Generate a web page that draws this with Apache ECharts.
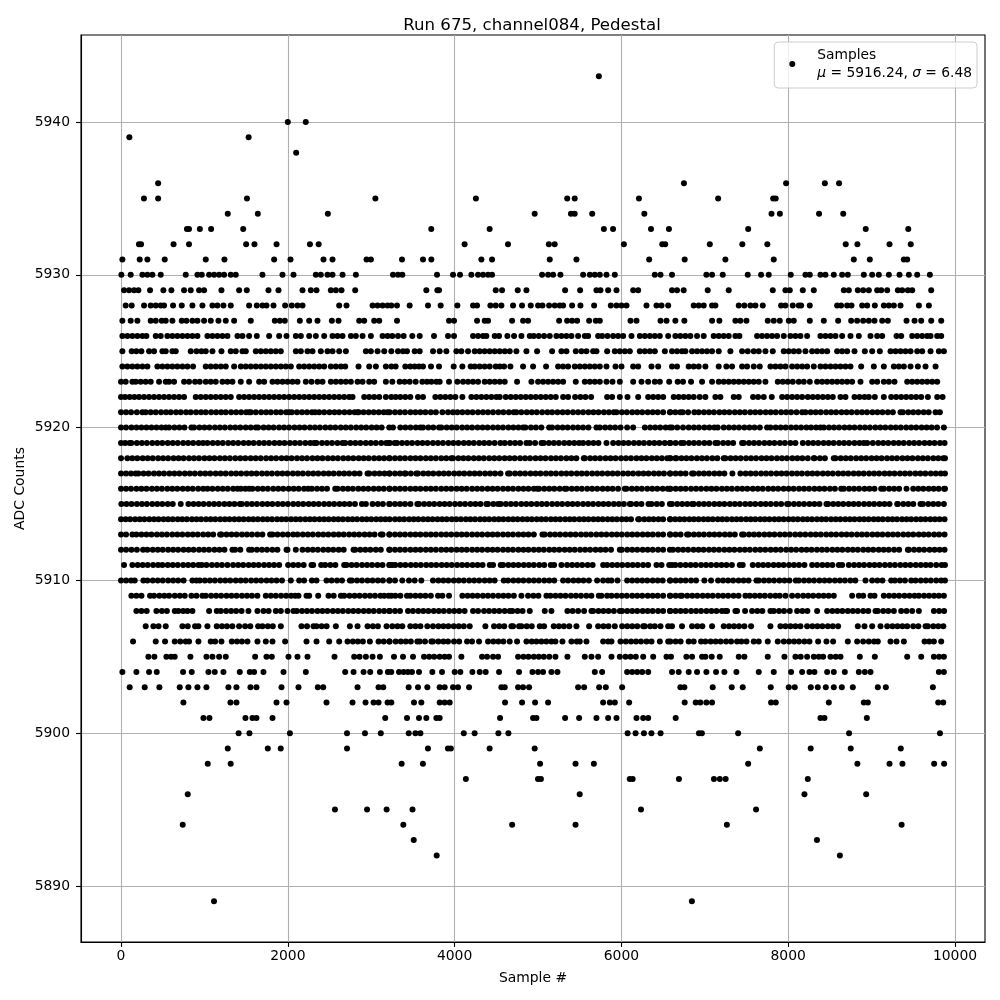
<!DOCTYPE html>
<html><head><meta charset="utf-8">
<script src="https://cdn.jsdelivr.net/npm/echarts@6/dist/echarts.min.js"></script>
<style>html,body{margin:0;padding:0;background:#fff}#c{width:1000px;height:1000px}</style>
</head><body><div id="c"></div>
<script>
const xTicks=[0,2000,4000,6000,8000,10000];
const yTicks=[5890,5900,5910,5920,5930,5940];
const s5943=[5730];
const s5940=[2000,2215];
const s5939=[100,1530];
const s5938=[2100];
const s5936=[445,6750,7975,8440,8610];
const s5935=[275,445,1510,3050,4255,5350,5440,6210,7160,7820,7850];
const s5934=[1280,1640,2480,4960,5395,5440,5650,6275,7800,7900,8370,8660];
const s5933=[790,815,945,1080,1465,3720,4420,5790,5900,6355,6570,7520,8930,9440];
const s5932=[215,240,630,815,1500,1600,1865,2265,2370,4120,4640,5130,5200,6030,6490,6525,7060,7450,7750,8690,8830,9215,9470];
const s5931=[16,224,316,524,1016,1240,1836,2032,2428,2536,2944,2996,3369,3621,3721,4321,4449,5141,5461,6333,6759,7247,7827,8787,8979,9387,9427];
const s5930=[4,116,256,316,376,476,776,916,968,1056,1116,1176,1236,1316,1376,1696,1936,2068,2336,2396,2476,2536,2656,2816,3261,3321,3373,3789,3981,4065,4201,4281,4341,4401,4449,5049,5121,5181,5269,5541,5621,5681,5741,5821,5921,6401,6469,6607,7019,7087,7215,7515,7675,7767,8031,8207,8259,8387,8447,8547,8647,8715,8907,9007,9087,9207,9335,9447,9547,9699];
const s5929=[36,96,156,208,348,508,604,756,836,936,996,1204,1416,1508,1768,1888,2176,2276,2344,2516,2576,2644,2808,3661,3793,3813,4493,4569,4757,4861,5325,5505,5701,5749,5841,5941,6141,6201,6607,6667,6747,7035,7287,7815,7967,8019,8175,8307,8667,8727,8835,8899,8967,9067,9115,9187,9315,9367,9435,9487,9715];
const s5928=[56,128,276,356,416,476,516,624,728,856,976,1096,1156,1228,1316,1536,1628,1696,1744,1828,1968,2048,2116,2176,2616,2704,3016,3076,3136,3196,3241,3309,3461,3681,3833,4033,4221,4269,4429,4493,4561,4701,4809,4913,5001,5053,5133,5201,5261,5301,5409,5509,5673,5873,5941,6001,6061,6301,6421,6481,6561,6867,6927,6987,7087,7127,7407,7475,7547,7607,7695,7915,7967,8055,8127,8155,8259,8587,8635,8707,8759,8887,8947,9039,9147,9207,9267,9347,9567,9687];
const s5927=[16,116,196,356,416,488,536,616,728,784,856,916,996,1076,1168,1256,1356,1556,1844,1904,1964,2144,2256,2356,2528,2608,2856,2916,3036,3096,3309,3933,3993,4269,4361,4401,4689,4821,4881,5253,5349,5409,5469,5613,5693,5741,6109,6181,6469,6541,6647,6755,7087,7175,7367,7427,7499,7755,7827,7899,8007,8067,8259,8427,8599,8755,8827,8899,8967,9035,9127,9195,9419,9515,9595,9715,9835];
const s5926=[16,76,136,196,256,304,416,476,556,616,676,736,796,856,916,1036,1096,1156,1216,1276,1396,1456,1536,1628,1776,1896,1984,2096,2156,2256,2336,2436,2536,2596,2656,2756,2816,2896,2996,3136,3196,3253,3321,3389,3493,3581,3753,3921,3993,4221,4281,4341,4381,4481,4533,4633,4713,4801,4901,4949,5009,5073,5141,5221,5281,5341,5401,5481,5561,5601,5721,5769,5833,5901,5961,6021,6121,6221,6281,6341,6401,6461,6561,6647,6707,6767,6827,6907,6987,7107,7167,7227,7287,7367,7415,7627,7687,7747,7807,7867,7947,8027,8087,8147,8227,8387,8447,8507,8567,8647,8747,8847,8987,9067,9127,9299,9355,9487,9547,9607,9667,9707,9787,9835];
const s5925=[16,128,184,244,336,396,496,536,616,656,836,904,964,1016,1096,1204,1316,1376,1456,1496,1616,1676,1736,1796,1856,1916,2096,2156,2236,2296,2396,2476,2536,2616,2696,2936,2996,3076,3156,3241,3321,3381,3429,3521,3581,3741,3821,3901,4021,4081,4161,4241,4301,4361,4421,4481,4541,4601,4661,4741,4861,4989,5169,5281,5341,5453,5521,5581,5661,5701,5829,5921,5981,6041,6101,6221,6281,6341,6401,6521,6607,6667,6727,6767,6847,6907,6967,7027,7087,7167,7307,7447,7515,7587,7647,7727,7815,7947,8007,8067,8127,8207,8287,8347,8407,8467,8587,8647,8707,8795,8919,9007,9099,9227,9287,9347,9407,9467,9547,9607,9707,9807,9867];
const s5924=[16,76,136,196,256,316,436,496,556,616,676,736,796,864,1016,1076,1136,1196,1256,1356,1436,1496,1556,1616,1676,1736,1796,1856,1916,1976,2036,2136,2196,2256,2316,2376,2436,2516,2576,2636,2688,2848,2976,3056,3176,3241,3293,3409,3469,3521,3573,3621,3717,3813,3989,4093,4193,4241,4301,4361,4421,4493,4541,4593,4669,4821,4941,5097,5241,5301,5361,5441,5501,5561,5621,5681,5741,5821,5929,6001,6141,6201,6361,6441,6607,6667,6807,6867,6927,7007,7167,7259,7327,7447,7507,7587,7659,7787,7847,7907,7967,8047,8107,8167,8227,8307,8387,8447,8507,8567,8627,8687,8747,8875,9027,9147,9267,9327,9387,9467,9555,9647,9767];
const s5923=[0,56,136,176,236,296,356,456,536,576,636,756,816,888,944,1016,1076,1136,1216,1276,1336,1436,1536,1656,1716,1816,1876,1936,1996,2056,2116,2216,2284,2356,2416,2516,2576,2636,2696,2756,2836,2896,2976,3036,3176,3253,3341,3401,3461,3533,3613,3669,3721,3781,3821,3933,4033,4101,4161,4221,4281,4361,4421,4481,4541,4601,4749,4921,5001,5061,5121,5181,5241,5301,5453,5561,5621,5681,5741,5821,5893,5981,6141,6241,6321,6401,6461,6573,6675,6739,6835,6967,7087,7167,7227,7287,7347,7407,7467,7527,7587,7647,7727,7875,7935,7995,8055,8127,8187,8259,8347,8407,8467,8527,8587,8647,8707,8767,8867,9007,9067,9147,9207,9275,9427,9487,9547,9607,9667,9727,9787];
const s5922=[0,48,104,160,216,276,336,396,456,516,576,636,696,756,896,956,1016,1076,1136,1196,1256,1316,1416,1476,1536,1596,1656,1716,1776,1836,1896,1956,2016,2076,2136,2196,2256,2316,2376,2436,2496,2556,2616,2676,2736,2776,2916,2976,3036,3096,3176,3241,3293,3349,3409,3469,3561,3621,3769,3829,3889,3949,4009,4093,4201,4261,4321,4381,4441,4501,4541,4613,4673,4733,4793,4853,4913,4973,5033,5093,5153,5213,5301,5361,5445,5509,5569,5637,5829,5889,5981,6073,6201,6321,6381,6441,6501,6627,6687,6747,6807,6867,6939,7007,7127,7187,7347,7407,7579,7639,7707,7803,7927,7987,8047,8107,8167,8235,8295,8355,8415,8475,8535,8627,8687,8795,8855,8915,8967,9039,9147,9235,9295,9355,9415,9475,9535,9595,9675,9787,9851];
const s5921=[0,60,120,190,256,296,356,416,480,540,596,660,716,780,836,900,960,1016,1080,1140,1200,1256,1320,1380,1440,1500,1536,1556,1616,1680,1740,1796,1860,1916,1980,2016,2048,2110,2170,2230,2290,2328,2376,2436,2500,2560,2616,2680,2740,2800,2836,2848,2908,2970,3030,3090,3150,3196,3221,3285,3345,3405,3470,3530,3590,3650,3715,3775,3853,3921,3980,4033,4093,4155,4215,4280,4340,4400,4460,4525,4585,4650,4709,4741,4800,4865,4925,4985,5050,5113,5169,5233,5295,5355,5420,5480,5540,5605,5665,5725,5790,5850,5909,5941,6005,6065,6130,6190,6250,6315,6375,6435,6500,6581,6587,6647,6707,6735,6800,6875,6927,6990,7050,7110,7175,7235,7295,7360,7420,7480,7545,7605,7665,7730,7790,7850,7915,7975,8035,8100,8167,8207,8270,8330,8390,8455,8515,8575,8640,8700,8760,8825,8885,8945,9010,9070,9130,9195,9255,9347,9375,9440,9500,9560,9625,9685,9767,9819];
const s5920=[0,60,125,185,245,305,365,425,485,536,576,640,700,760,844,876,940,1000,1060,1125,1185,1245,1310,1370,1430,1495,1555,1616,1644,1710,1770,1830,1895,1955,2015,2080,2140,2200,2265,2325,2385,2450,2510,2570,2635,2695,2755,2820,2880,2940,3005,3065,3125,3216,3261,3349,3410,3470,3535,3589,3621,3685,3745,3813,3841,3905,3965,4025,4090,4150,4210,4275,4335,4395,4460,4520,4580,4645,4705,4765,4821,4849,4915,4975,5040,5133,5169,5235,5295,5355,5420,5480,5540,5605,5701,5741,5805,5865,5925,5990,6069,6141,6281,6345,6405,6465,6530,6581,6607,6670,6739,6807,6870,6930,6995,7055,7115,7155,7227,7290,7350,7410,7475,7535,7595,7660,7747,7787,7850,7910,7970,8035,8095,8155,8219,8275,8335,8387,8427,8490,8550,8610,8675,8735,8795,8860,8920,8980,9045,9105,9165,9230,9290,9350,9415,9475,9535,9600,9660,9720,9785,9867];
const s5919=[0,50,104,124,190,250,310,375,435,495,560,620,680,745,805,865,930,984,1036,1100,1160,1220,1285,1345,1405,1470,1530,1590,1655,1715,1775,1840,1900,1960,2025,2085,2145,2210,2270,2316,2344,2410,2470,2530,2595,2656,2688,2750,2810,2870,2935,2995,3055,3120,3180,3216,3221,3281,3309,3370,3430,3490,3555,3615,3675,3740,3800,3860,3925,3985,4045,4110,4170,4230,4295,4355,4415,4480,4549,4601,4665,4725,4785,4861,4901,4965,5041,5069,5130,5190,5250,5315,5375,5435,5493,5541,5605,5665,5725,5821,5901,5965,6025,6085,6150,6210,6270,6335,6395,6455,6520,6581,6587,6650,6715,6747,6810,6870,6930,6995,7055,7127,7155,7220,7280,7340,7447,7467,7530,7590,7650,7715,7775,7835,7900,7960,8027,8087,8175,8240,8300,8360,8425,8485,8545,8610,8670,8730,8795,8855,8907,8947,9015,9080,9140,9200,9265,9325,9385,9450,9510,9570,9635,9695,9755,9820,9875];
const s5918=[0,76,135,195,260,320,380,445,505,565,630,690,750,815,875,935,1000,1060,1120,1185,1245,1305,1370,1430,1490,1555,1615,1675,1740,1800,1860,1925,1985,2045,2110,2170,2230,2295,2355,2415,2480,2540,2600,2665,2725,2785,2850,2910,2970,3035,3095,3155,3216,3221,3285,3345,3405,3470,3530,3590,3655,3715,3775,3840,3900,3961,3981,4045,4105,4165,4230,4290,4350,4415,4475,4535,4600,4660,4720,4785,4845,4905,4970,5030,5090,5155,5215,5275,5340,5400,5460,5549,5561,5625,5685,5745,5810,5870,5930,5995,6055,6115,6180,6240,6300,6365,6425,6485,6550,6581,6587,6647,6659,6720,6780,6840,6905,6965,7025,7090,7150,7227,7247,7310,7370,7430,7495,7555,7615,7680,7740,7800,7865,7925,7985,8050,8110,8170,8235,8307,8315,8380,8440,8547,8567,8630,8690,8750,8815,8875,8935,9000,9060,9120,9185,9245,9305,9370,9430,9490,9555,9615,9675,9740,9800,9860,9880];
const s5917=[0,60,120,176,208,270,330,395,455,515,580,640,700,765,825,885,950,1010,1070,1135,1195,1255,1320,1380,1440,1505,1565,1625,1690,1750,1810,1875,1935,1995,2060,2120,2180,2245,2305,2365,2430,2490,2550,2615,2675,2735,2800,2860,2956,2976,3040,3100,3160,3216,3221,3285,3345,3401,3413,3475,3541,3561,3625,3685,3745,3810,3870,3930,3995,4055,4115,4180,4240,4300,4365,4425,4485,4550,4641,4661,4725,4785,4845,4910,4970,5030,5095,5155,5215,5280,5340,5400,5465,5525,5585,5650,5710,5770,5835,5895,5955,6020,6080,6140,6205,6265,6325,6390,6450,6510,6581,6587,6650,6710,6770,6847,6867,6930,6990,7050,7115,7175,7235,7331,7427,7490,7550,7610,7675,7735,7795,7860,7920,7980,8045,8105,8165,8230,8290,8350,8415,8475,8535,8600,8660,8720,8785,8845,8905,8970,9030,9090,9155,9215,9275,9340,9400,9460,9525,9585,9645,9710,9770,9830,9880];
const s5916=[0,60,120,185,245,305,370,430,490,555,615,675,740,800,860,925,985,1036,1096,1160,1220,1280,1345,1396,1436,1490,1536,1576,1640,1700,1760,1825,1885,1945,2010,2070,2130,2195,2244,2288,2350,2410,2470,2568,2596,2660,2720,2780,2845,2905,2965,3030,3090,3150,3216,3221,3285,3345,3405,3470,3530,3590,3655,3715,3775,3840,3900,3960,4025,4085,4145,4210,4270,4330,4395,4455,4515,4580,4640,4700,4765,4825,4885,4950,4993,5013,5075,5135,5195,5260,5321,5341,5405,5465,5525,5590,5650,5710,5775,5835,5895,5960,6041,6061,6125,6185,6245,6310,6370,6430,6495,6555,6581,6587,6650,6710,6770,6835,6895,6955,7020,7080,7140,7205,7265,7325,7390,7450,7510,7575,7635,7695,7760,7820,7880,7945,8005,8065,8130,8190,8250,8315,8375,8435,8500,8560,8635,8667,8730,8790,8850,8915,8975,9035,9115,9147,9210,9270,9330,9419,9499,9560,9620,9685,9745,9805,9870,9880];
const s5915=[4,65,125,190,250,310,375,435,495,560,620,716,808,870,930,990,1055,1115,1175,1240,1300,1360,1424,1448,1510,1570,1630,1695,1755,1815,1880,1940,2000,2065,2125,2185,2250,2310,2370,2435,2495,2555,2620,2680,2740,2805,2888,2936,3016,3080,3140,3216,3221,3285,3345,3405,3470,3553,3573,3635,3695,3755,3820,3880,3940,4005,4065,4125,4190,4250,4310,4381,4401,4465,4521,4553,4615,4675,4735,4800,4860,4920,4985,5045,5105,5170,5230,5290,5355,5415,5475,5540,5600,5660,5725,5785,5845,5910,5970,6030,6101,6117,6180,6240,6325,6361,6425,6485,6581,6607,6670,6730,6790,6847,6867,6930,6990,7050,7115,7175,7235,7300,7360,7420,7485,7545,7605,7670,7730,7790,7855,7915,7987,8007,8070,8130,8190,8255,8315,8375,8459,8479,8540,8600,8660,8725,8785,8845,8910,8970,9030,9095,9155,9215,9307,9315,9380,9440,9500,9587,9615,9680,9740,9800,9867];
const s5914=[0,55,110,170,225,280,340,395,450,510,565,620,680,735,790,850,905,960,1020,1075,1130,1190,1245,1300,1360,1415,1470,1530,1585,1640,1700,1755,1810,1870,1925,1980,2040,2095,2150,2210,2265,2320,2380,2435,2490,2550,2605,2660,2720,2775,2830,2890,2945,3000,3060,3115,3170,3221,3285,3340,3395,3455,3510,3565,3625,3680,3735,3795,3850,3905,3965,4020,4075,4135,4190,4245,4305,4360,4415,4475,4530,4585,4645,4700,4755,4815,4870,4925,4985,5040,5095,5155,5210,5265,5325,5380,5435,5495,5550,5605,5665,5720,5775,5835,5890,5945,6005,6060,6115,6201,6213,6275,6330,6385,6445,6500,6581,6587,6645,6700,6755,6815,6870,6925,6985,7040,7095,7155,7210,7265,7325,7380,7435,7495,7550,7605,7665,7720,7775,7835,7890,7945,8005,8060,8115,8175,8230,8285,8345,8400,8455,8515,8570,8625,8685,8740,8795,8855,8910,8965,9025,9080,9135,9195,9250,9305,9365,9420,9475,9535,9590,9645,9705,9760,9815,9875];
const s5913=[0,60,136,184,245,305,365,430,490,550,615,675,735,800,860,920,985,1045,1105,1188,1204,1265,1325,1385,1450,1510,1570,1635,1695,1788,1816,1876,1940,2000,2064,2116,2180,2240,2300,2365,2425,2485,2550,2610,2670,2735,2795,2855,2920,2980,3040,3116,3136,3216,3221,3285,3345,3405,3470,3530,3590,3655,3715,3775,3840,3900,3960,4025,4085,4145,4210,4270,4330,4395,4455,4515,4580,4640,4700,4765,4825,4885,4950,5053,5081,5145,5205,5265,5330,5390,5450,5515,5575,5635,5700,5760,5820,5885,5945,6005,6070,6130,6190,6255,6315,6375,6440,6500,6581,6587,6650,6710,6787,6807,6870,6930,6990,7055,7115,7175,7240,7300,7360,7447,7467,7530,7590,7650,7715,7775,7835,7900,7960,8020,8085,8145,8205,8270,8330,8390,8455,8515,8575,8640,8700,8760,8825,8885,8945,9010,9070,9130,9195,9255,9315,9380,9440,9500,9565,9625,9685,9750,9810,9875];
const s5912=[0,60,125,190,264,316,380,440,500,565,625,685,750,810,870,935,995,1055,1120,1180,1240,1336,1368,1430,1536,1568,1630,1690,1750,1815,1875,1984,1996,2096,2176,2240,2300,2360,2425,2485,2545,2610,2670,2788,2808,2870,2930,2990,3055,3115,3216,3221,3285,3345,3405,3470,3530,3590,3655,3715,3775,3840,3900,3960,4025,4085,4145,4210,4270,4330,4395,4455,4515,4580,4640,4700,4765,4825,4885,4950,5010,5070,5135,5195,5255,5320,5380,5440,5505,5565,5625,5690,5750,5810,5875,5981,6005,6070,6130,6190,6255,6315,6375,6440,6500,6581,6619,6680,6740,6800,6865,6925,6985,7050,7110,7170,7235,7295,7355,7420,7480,7540,7605,7665,7725,7790,7850,7910,7975,8035,8095,8160,8220,8280,8345,8405,8465,8530,8590,8650,8715,8775,8835,8900,8960,9020,9085,9145,9205,9270,9330,9435,9447,9510,9570,9630,9695,9755,9815,9875];
const s5911=[36,136,200,260,320,385,444,496,560,620,680,745,805,865,928,968,1024,1090,1150,1210,1276,1344,1405,1465,1530,1590,1650,1715,1775,1835,1896,2004,2065,2125,2190,2284,2304,2400,2448,2510,2570,2676,2704,2765,2825,2890,2950,3010,3075,3135,3216,3221,3253,3289,3350,3410,3475,3535,3595,3660,3720,3780,3845,3905,3965,4030,4090,4150,4215,4275,4335,4421,4461,4553,4581,4645,4705,4765,4830,4890,4950,5015,5075,5153,5193,5281,5349,5410,5470,5530,5595,5655,5781,5829,5890,5950,6010,6075,6135,6195,6260,6320,6421,6481,6573,6607,6647,6707,6770,6830,6890,6955,7015,7075,7140,7200,7260,7325,7419,7455,7575,7640,7700,7760,7825,7885,7945,8010,8070,8130,8195,8287,8347,8410,8470,8530,8607,8647,8727,8790,8850,8910,8975,9035,9095,9160,9220,9280,9345,9405,9465,9530,9590,9650,9707,9775,9840,9880];
const s5910=[0,60,120,164,268,316,380,440,500,565,625,685,750,856,904,944,1005,1065,1125,1190,1250,1310,1375,1435,1495,1560,1620,1680,1745,1805,1865,1930,2036,2136,2195,2288,2344,2464,2525,2590,2650,2744,2768,2830,2890,2956,3016,3080,3140,3216,3221,3285,3373,3453,3521,3601,3741,3805,3865,3925,3990,4050,4110,4175,4235,4295,4360,4420,4480,4589,4641,4705,4765,4825,4890,4950,5010,5075,5135,5195,5301,5361,5425,5485,5545,5610,5709,5781,5841,5881,5953,6069,6129,6190,6250,6310,6375,6435,6495,6581,6587,6650,6710,6770,6835,6895,6995,7075,7159,7220,7280,7340,7405,7465,7525,7619,7647,7710,7770,7830,7895,7955,8015,8091,8127,8190,8250,8310,8375,8435,8495,8560,8620,8680,8745,8805,8927,9007,9070,9130,9235,9279,9340,9400,9475,9527,9590,9650,9710,9775,9835,9880];
const s5909=[124,184,245,348,396,460,520,576,644,705,764,844,905,976,1016,1080,1140,1200,1265,1325,1385,1450,1510,1570,1635,1736,1796,1856,1920,1980,2040,2088,2128,2224,2256,2364,2488,2550,2636,2676,2740,2800,2860,2925,2985,3045,3110,3156,3208,3241,3289,3350,3429,3469,3530,3590,3650,3715,3801,3853,3933,4093,4155,4215,4275,4340,4400,4460,4525,4585,4645,4710,4801,4881,4945,5005,5101,5149,5210,5270,5330,5395,5455,5515,5580,5640,5729,5761,5829,5881,5945,6005,6065,6130,6190,6250,6315,6375,6435,6500,6581,6587,6650,6707,6727,6790,6850,6910,6975,7035,7095,7160,7220,7280,7345,7405,7487,7539,7600,7660,7720,7785,7847,7899,7967,8047,8115,8180,8240,8300,8365,8425,8485,8547,8767,8847,8899,8987,9035,9147,9210,9270,9330,9395,9455,9515,9567,9630,9690,9750,9807,9867];
const s5908=[184,245,308,424,490,550,644,688,745,796,856,1056,1148,1196,1260,1320,1380,1445,1528,1636,1708,1770,1856,1916,1996,2068,2108,2170,2230,2290,2355,2415,2475,2540,2600,2660,2725,2785,2845,2910,2970,3030,3095,3155,3216,3221,3285,3345,3441,3501,3565,3625,3685,3750,3810,3870,3935,3995,4055,4120,4221,4281,4353,4413,4475,4535,4600,4661,4693,4755,4815,4901,5081,5161,5353,5415,5481,5553,5641,5661,5725,5785,5845,5910,5981,6009,6070,6130,6190,6255,6315,6375,6440,6500,6581,6587,6650,6710,6770,6835,6895,6955,7020,7080,7140,7205,7247,7267,7367,7387,7483,7567,7630,7690,7787,7827,7890,7950,8019,8107,8170,8230,8347,8467,8530,8590,8650,8715,8775,8835,8900,8960,9047,9075,9140,9200,9267,9355,9419,9487,9567,9747,9810,9870];
const s5907=[296,388,450,536,736,800,888,928,1036,1148,1210,1270,1335,1416,1488,1550,1644,1696,1760,1820,1916,2164,2230,2308,2344,2405,2465,2576,2744,2836,2956,3020,3080,3184,3253,3315,3373,3469,3530,3590,3673,3741,3805,3865,3925,3990,4050,4110,4181,4369,4473,4535,4595,4681,4701,4773,4801,4865,4925,5021,5073,5189,5250,5310,5375,5461,5613,5721,5785,5845,5921,6009,6070,6130,6190,6261,6281,6345,6401,6469,6561,6607,6727,6847,6910,6970,7087,7227,7290,7350,7410,7475,7555,7787,7907,7967,8027,8087,8147,8227,8290,8350,8410,8475,8535,8599,8835,8915,9007,9107,9187,9250,9310,9370,9427,9499,9560,9647,9675,9740,9800,9860];
const s5906=[144,416,528,644,710,776,816,928,1076,1128,1204,1328,1390,1450,1516,1636,1736,1816,1968,2224,2344,2496,2616,2716,2780,2840,2900,2984,3088,3150,3216,3221,3293,3355,3415,3475,3553,3581,3645,3721,3741,3805,3865,3921,3993,4055,4149,4209,4293,4401,4465,4525,4585,4661,4749,4861,4925,4981,5041,5100,5161,5209,5293,5401,5465,5501,5581,5781,5841,5881,5989,6053,6115,6175,6235,6301,6361,6461,6561,6587,6650,6710,6807,6867,6955,7007,7070,7130,7190,7255,7315,7387,7439,7500,7587,7647,7755,7875,7947,8010,8070,8130,8195,8255,8359,8459,8539,8715,8827,8899,8967,9030,9075,9227,9299,9387,9635,9691,9747,9835];
const s5905=[328,400,544,600,644,832,1024,1096,1176,1256,1608,1744,1808,2008,2116,2236,2560,2796,2860,2936,3016,3104,3273,3381,3501,3633,3695,3755,3820,3880,3933,4081,4329,4389,4461,4521,4761,4825,4885,4950,5010,5070,5135,5209,5353,5561,5641,5721,5881,5981,6049,6110,6173,6261,6381,6541,6595,6779,6847,6967,7007,7083,7179,7407,7475,7755,7955,8087,8150,8227,8307,8367,8419,8507,8570,8627,8859,9039,9427,9595,9747,9810,9867];
const s5904=[16,184,336,428,744,848,1048,1124,1228,1424,1544,1596,1708,1948,2216,2688,2788,2908,2988,3104,3200,3241,3333,3389,3441,3489,3573,3733,3849,4001,4069,4213,4301,4373,4533,4773,4933,5001,5061,5161,5233,5681,5769,6069,6129,6189,6249,6321,6607,6687,6807,6907,7019,7135,7235,7379,7647,7827,8035,8167,8255,8315,8467,8547,8679,8847,8919,8987,9807,9867];
const s5903=[104,284,460,704,808,916,1024,1288,1384,1552,1624,1924,2128,2360,2424,2836,3088,3144,3449,3561,3673,3821,3881,3981,4041,4173,4561,4601,4761,4821,4893,5481,5553,5733,5813,6009,6707,6755,7095,7323,7455,7791,8007,8079,8271,8355,8451,8547,8643,8775,9075,9171,9735];
const s5902=[748,1312,1384,1864,1984,2464,2776,2932,3028,3088,3196,3241,3513,3601,3821,3881,3941,4605,4809,4965,5121,5781,5861,5921,6093,6759,6891,6947,7019,7087,7795,7851,8487,8907,8955,9799,9859];
const s5901=[988,1060,1492,1576,1624,1816,3168,3429,3573,3661,3781,3821,4545,4941,4981,5325,5493,5701,5841,5941,6181,6261,6321,6651,8387,8435,8943];
const s5900=[1410,1540,2025,2710,2925,3115,3450,3530,3590,4110,4240,4525,4645,6075,6170,6270,6360,6470,6930,6965,7400,8730,9820];
const s5899=[1280,1760,1915,2710,3680,3920,3955,4420,4960,7660,8270,8750,9350];
const s5898=[1040,1315,3365,3620,5025,5450,5670,7520,8830,9215,9370,9750,9870];
const s5897=[4135,5000,5035,6100,6135,6690,7110,7180,7250,8235];
const s5896=[800,5500,8195,8935];
const s5895=[2565,2950,3185,3495,6235,7615];
const s5894=[740,3385,4690,5450,7265,9360];
const s5893=[3510,8345];
const s5892=[3785,8620];
const s5889=[1115,6845];
const rows=[[5943,s5943],[5940,s5940],[5939,s5939],[5938,s5938],[5936,s5936],[5935,s5935],[5934,s5934],[5933,s5933],[5932,s5932],[5931,s5931],[5930,s5930],[5929,s5929],[5928,s5928],[5927,s5927],[5926,s5926],[5925,s5925],[5924,s5924],[5923,s5923],[5922,s5922],[5921,s5921],[5920,s5920],[5919,s5919],[5918,s5918],[5917,s5917],[5916,s5916],[5915,s5915],[5914,s5914],[5913,s5913],[5912,s5912],[5911,s5911],[5910,s5910],[5909,s5909],[5908,s5908],[5907,s5907],[5906,s5906],[5905,s5905],[5904,s5904],[5903,s5903],[5902,s5902],[5901,s5901],[5900,s5900],[5899,s5899],[5898,s5898],[5897,s5897],[5896,s5896],[5895,s5895],[5894,s5894],[5893,s5893],[5892,s5892],[5889,s5889]];
const points=[];
rows.forEach(([v,xs])=>xs.forEach(x=>points.push([x,v])));
const font='"DejaVu Sans"';
const chart=echarts.init(document.getElementById('c'),null,{renderer:'canvas'});
chart.setOption({
  animation:false,
  backgroundColor:'#fff',
  title:{text:'Run 675, channel084, Pedestal',left:527,top:12,textAlign:'center',textStyle:{fontFamily:font,fontSize:16.6,fontWeight:'normal',color:'#000'}},
  grid:{left:81,top:35,width:904,height:907,show:true,borderColor:'#000',borderWidth:1.1,backgroundColor:'transparent',outerBoundsMode:'none'},
  legend:{show:true,data:['Samples'],right:23,top:42,orient:'horizontal',padding:[4,5,6,15],itemWidth:14,itemHeight:6,itemGap:0,
    backgroundColor:'rgba(255,255,255,0.8)',borderColor:'#ccc',borderWidth:1,borderRadius:4,
    formatter:()=>'Samples\n{i|μ} = 5916.24, {i|σ} = 6.48',
    textStyle:{fontFamily:font,fontSize:13.8,color:'#000',lineHeight:18,padding:[0,0,0,13],rich:{i:{fontFamily:font,fontStyle:'italic',fontSize:13.8,lineHeight:18}}}},
  xAxis:{type:'value',min:-480,max:10360,name:'Sample #',nameLocation:'middle',nameGap:29,
    nameTextStyle:{fontFamily:font,fontSize:13.9,color:'#000'},
    axisLine:{show:true,onZero:false,lineStyle:{color:'#000',width:1.1}},
    axisTick:{show:true,length:4.9,customValues:xTicks,lineStyle:{color:'#000',width:1.1}},
    axisLabel:{fontFamily:font,fontSize:13.9,color:'#000',margin:7,customValues:xTicks,formatter:v=>String(v)},
    splitLine:{show:true,lineStyle:{color:'#b0b0b0',width:1.1}}},
  yAxis:{type:'value',min:5886.33,max:5945.7,name:'ADC Counts',nameLocation:'middle',nameGap:54,nameMoveOverlap:false,
    nameTextStyle:{fontFamily:font,fontSize:13.9,color:'#000'},
    axisLine:{show:true,onZero:false,lineStyle:{color:'#000',width:1.1}},
    axisTick:{show:true,length:4.9,customValues:yTicks,lineStyle:{color:'#000',width:1.1}},
    axisLabel:{fontFamily:font,fontSize:13.9,color:'#000',margin:11,customValues:yTicks,formatter:v=>String(v)},
    splitLine:{show:true,lineStyle:{color:'#b0b0b0',width:1.1}}},
  series:[{name:'Samples',type:'scatter',data:points,symbol:'circle',symbolSize:6,silent:true,itemStyle:{color:'#000',opacity:1}}]
});
</script></body></html>
